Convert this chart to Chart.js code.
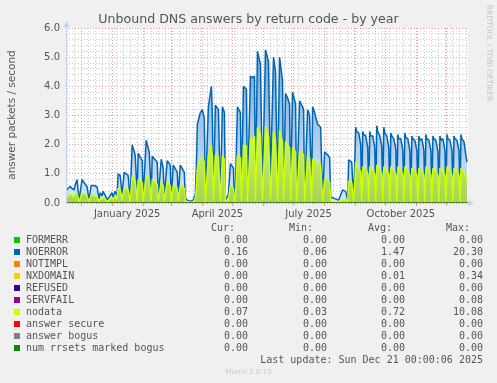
<!DOCTYPE html>
<html>
<head>
<meta charset="utf-8">
<title>Unbound DNS answers by return code - by year</title>
<script src="https://cdn.jsdelivr.net/npm/chart.js@4.4.1/dist/chart.umd.min.js"></script>
<style>
  body { margin: 0; background: #f0f0f0; }
  #wrap { position: relative; width: 497px; height: 383px; overflow: hidden; font-family: "DejaVu Sans", sans-serif; color: #555; }
  #grafico { position: absolute; left: 0; top: 0; }
  .txt { position: absolute; white-space: pre; }
  .mono { font-family: "DejaVu Sans Mono", monospace; font-size: 10px; line-height: 12px; }
  .num { text-align: right; }
  .quad { position: absolute; width: 6px; height: 6px; }
</style>
</head>
<body>
<div id="wrap">
  <canvas id="grafico" width="497" height="383"></canvas>
  <div class="txt" id="titulo" style="left:0; width:497px; top:12px; text-align:center; font-size:12.6px; line-height:14px; color:#555;">Unbound DNS answers by return code - by year</div>
  <div class="txt" style="left:-89px; top:108px; width:200px; height:14px; text-align:center; font-size:10.5px; line-height:14px; transform:rotate(-90deg);">answer packets / second</div>
  <div class="txt" style="left:429px; top:48px; width:120px; height:10px; text-align:center; font-size:7.5px; line-height:10px; color:#c4c4c4; transform:rotate(90deg);">RRDTOOL / TOBI OETIKER</div>
  <div id="legenda"></div>
</div>
<script>
// === Dados (dia 0 = 16 Nov 2024, 1 px por dia) ===
const days = [
  1, 4, 6, 8, 9, 11, 13, 16, 19, 21, 23, 25, 28, 31, 33, 34, 36, 37, 40, 41, 44, 46, 47, 49, 51,
  52, 54, 56, 58, 62, 64, 66, 69, 71, 72, 76, 77, 80, 83, 85, 86, 91, 92, 95, 97, 98, 101, 104, 105, 107, 111, 112, 114, 118, 119, 121, 124, 127, 129,
  130, 131, 134, 136, 138, 139, 142, 145, 146, 147, 149, 152, 154, 156, 158, 159, 162, 164, 167, 168, 169, 171, 174, 175, 177, 180, 181,
  184, 186, 188, 189, 191, 194, 196, 199, 202, 204, 207, 209, 211, 213, 216, 217, 219, 221, 223, 224, 226, 229, 230, 233, 236, 237, 238, 241, 243, 245,
  246, 248, 251, 254, 256, 258, 261, 263, 264, 268, 272, 276, 279, 281, 282, 285, 287,
  289, 290, 292, 294, 295, 296, 297, 299, 301, 302, 303, 304, 306, 308, 309, 310, 311, 313, 315, 316,
  317, 318, 320, 322, 323, 324, 325, 327, 329, 330, 331, 332, 334, 336, 337, 338, 339, 341, 343, 344,
  345, 346, 348, 350, 351, 352, 353, 355, 357, 358, 359, 360, 362, 364, 365, 366, 367, 369, 371, 372,
  373, 374, 376, 378, 379, 380, 381, 383, 385, 386, 387, 388, 390, 392, 393, 394, 395, 397, 399, 400
];
const noerror = [
  0.45, 0.57, 0.5, 0.45, 0.6, 0.8, 0.1, 0.8, 0.65, 0.55, 0.1, 0.6, 0.6, 0.55, 0.12, 0.35, 0.25, 0.4, 0.2, 0.1, 0.25, 0.35, 0.2, 0.4, 0.25,
  1.0, 0.95, 0.3, 1.05, 0.95, 0.1, 2.0, 1.65, 0.3, 1.7, 1.45, 0.2, 2.15, 1.75, 0.3, 1.6, 1.4, 0.2, 1.5, 1.2, 0.2, 1.45, 1.3, 0.2, 1.3, 1.05, 0.2, 1.3, 1.05, 0.15, 0.1, 0.05, 0.1, 0.3,
  1.2, 2.7, 3.1, 3.2, 2.9, 0.1, 3.3, 4.0, 3.0, 0.1, 3.35, 3.2, 0.1, 3.3, 3.1, 0.1, 0.3, 1.35, 1.2, 0.1, 0.4, 3.3, 3.1, 0.1, 4.0, 3.9, 0.2,
  4.35, 4.3, 4.35, 0.3, 5.2, 4.75, 0.4, 5.25, 4.85, 0.8, 5.0, 4.5, 0.4, 5.0, 4.2, 0.15, 3.75, 3.6, 3.4, 0.3, 3.8, 3.4, 0.15, 3.5, 3.3, 3.2, 0.15, 3.2, 3.0, 0.3,
  3.3, 3.1, 2.7, 2.6, 0.15, 1.75, 1.65, 1.55, 0.2, 0.15, 0.1, 0.45, 0.4, 0.1, 1.48, 1.4, 0.1,
  2.6, 2.45, 2.4, 2.0, 0.1, 2.45, 2.35, 2.3, 1.9, 0.1, 2.45, 2.3, 2.3, 1.9, 0.1, 2.65, 2.45, 2.3, 1.95, 0.1,
  2.6, 2.4, 2.3, 1.9, 0.1, 2.4, 2.3, 2.2, 1.85, 0.12, 2.35, 2.2, 2.2, 1.8, 0.1, 2.4, 2.25, 2.2, 1.8, 0.1,
  2.3, 2.2, 2.15, 1.8, 0.1, 2.3, 2.15, 2.2, 1.8, 0.1, 2.35, 2.2, 2.15, 1.8, 0.1, 2.3, 2.2, 2.15, 1.75, 0.1,
  2.3, 2.15, 2.2, 1.8, 0.1, 2.35, 2.2, 2.15, 1.8, 0.12, 2.3, 2.2, 2.15, 1.8, 0.15, 2.35, 2.2, 2.1, 1.6, 1.4
];
const nodata = [
  0.2, 0.3, 0.25, 0.2, 0.3, 0.35, 0.04, 0.33, 0.3, 0.22, 0.04, 0.28, 0.25, 0.22, 0.04, 0.15, 0.12, 0.2, 0.1, 0.04, 0.12, 0.18, 0.1, 0.22, 0.12,
  0.5, 0.45, 0.1, 0.5, 0.45, 0.04, 0.9, 0.75, 0.08, 0.8, 0.7, 0.05, 0.95, 0.8, 0.08, 0.8, 0.65, 0.05, 0.7, 0.6, 0.05, 0.7, 0.6, 0.05, 0.6, 0.5, 0.05, 0.6, 0.5, 0.05, 0.05, 0.02, 0.04, 0.15,
  0.5, 1.2, 1.5, 1.55, 1.4, 0.04, 1.6, 2.0, 1.6, 0.04, 1.65, 1.6, 0.04, 1.6, 1.5, 0.04, 0.1, 0.6, 0.5, 0.04, 0.2, 1.65, 1.55, 0.04, 2.0, 1.95, 0.05,
  2.2, 2.15, 2.3, 0.08, 2.6, 2.35, 0.1, 2.63, 2.3, 0.15, 2.45, 2.2, 0.08, 2.5, 2.1, 0.05, 2.1, 2.0, 1.9, 0.08, 1.9, 1.75, 0.05, 1.77, 1.7, 1.65, 0.05, 1.6, 1.55, 0.08,
  1.5, 1.45, 1.37, 1.3, 0.05, 0.82, 0.78, 0.72, 0.05, 0.05, 0.04, 0.1, 0.1, 0.04, 0.75, 0.7, 0.04,
  1.4, 1.25, 1.2, 1.05, 0.04, 1.25, 1.15, 1.15, 1.0, 0.04, 1.25, 1.15, 1.1, 1.0, 0.04, 1.3, 1.2, 1.15, 1.0, 0.04,
  1.25, 1.15, 1.1, 1.0, 0.04, 1.25, 1.15, 1.1, 1.0, 0.04, 1.25, 1.15, 1.1, 1.0, 0.04, 1.25, 1.15, 1.1, 0.95, 0.04,
  1.2, 1.1, 1.1, 0.95, 0.04, 1.2, 1.1, 1.1, 0.95, 0.04, 1.25, 1.15, 1.1, 0.95, 0.04, 1.2, 1.1, 1.1, 0.95, 0.04,
  1.2, 1.1, 1.1, 0.95, 0.04, 1.25, 1.15, 1.1, 0.95, 0.04, 1.2, 1.1, 1.1, 0.95, 0.04, 1.2, 1.1, 1.05, 0.9, 0.8
];
const nxdomainDays = [0, 78, 79, 80, 401];
const nxdomain = [0, 0, 0.05, 0, 0];
const zeroDays = [0, 401];
const zeros = [0, 0];

// === Eixos ===
const monthStarts = [15, 46, 77, 105, 136, 166, 197, 227, 258, 289, 319, 350, 380];
const labelDays = [61, 151, 242, 334];
const monthLabels = ['January 2025', 'April 2025', 'July 2025', 'October 2025'];

// === Legenda ===
const nomes = ['FORMERR', 'NOERROR', 'NOTIMPL', 'NXDOMAIN', 'REFUSED', 'SERVFAIL', 'nodata', 'answer secure', 'answer bogus', 'num rrsets marked bogus'];
const cores = ['#00CC00', '#0066B3', '#FF8000', '#FFCC00', '#330099', '#990099', '#CCFF00', '#FF0000', '#808080', '#008F00'];
const cur = ['0.00', '0.16', '0.00', '0.00', '0.00', '0.00', '0.07', '0.00', '0.00', '0.00'];
const min = ['0.00', '0.06', '0.00', '0.00', '0.00', '0.00', '0.03', '0.00', '0.00', '0.00'];
const avg = ['0.00', '1.47', '0.00', '0.01', '0.00', '0.00', '0.72', '0.00', '0.00', '0.00'];
const max = ['0.00', '20.30', '0.00', '0.34', '0.00', '0.08', '10.08', '0.00', '0.00', '0.00'];

const weekDays = [];
for (let d = 1; d <= 400; d += 7) weekDays.push(d);

function pontos(xs, ys) {
  return xs.map((x, i) => ({ x: x, y: ys[i] }));
}

function gradiente(chart, topo, base, vTopo) {
  const { ctx, chartArea, scales } = chart;
  if (!chartArea) return base;
  const g = ctx.createLinearGradient(0, scales.y.getPixelForValue(vTopo), 0, chartArea.bottom);
  g.addColorStop(0, topo);
  g.addColorStop(1, base);
  return g;
}

function linhaZero(idx) {
  return {
    label: nomes[idx],
    data: pontos(zeroDays, zeros),
    borderColor: cores[idx],
    borderWidth: 1,
    pointRadius: 0,
    fill: false
  };
}

// === Fundo branco e setas dos eixos ===
const fundoPlugin = {
  id: 'fundo',
  beforeDraw(chart) {
    const { ctx, chartArea: a } = chart;
    ctx.save();
    ctx.fillStyle = '#ffffff';
    ctx.fillRect(a.left, a.top, a.right - a.left, a.bottom - a.top);
    ctx.restore();
  },
  afterDraw(chart) {
    const { ctx, chartArea: a } = chart;
    ctx.save();
    ctx.strokeStyle = '#c8d0f0';
    ctx.fillStyle = '#c8d0f0';
    ctx.lineWidth = 1;
    ctx.beginPath();
    ctx.moveTo(a.left + 0.5, a.bottom);
    ctx.lineTo(a.left + 0.5, a.top - 4);
    ctx.stroke();
    ctx.beginPath();
    ctx.moveTo(a.left - 2.5, a.top - 1);
    ctx.lineTo(a.left + 3.5, a.top - 1);
    ctx.lineTo(a.left + 0.5, a.top - 7);
    ctx.fill();
    ctx.beginPath();
    ctx.moveTo(a.right, a.bottom - 3);
    ctx.lineTo(a.right, a.bottom + 3);
    ctx.lineTo(a.right + 6, a.bottom);
    ctx.fill();
    ctx.restore();
  }
};

new Chart(document.getElementById('grafico'), {
  type: 'line',
  data: {
    datasets: [
      linhaZero(9),
      linhaZero(8),
      linhaZero(7),
      {
        label: 'nodata',
        data: pontos(days, nodata),
        borderColor: '#CCFF00',
        borderWidth: 1.5,
        borderJoinStyle: 'bevel',
        pointRadius: 0,
        fill: 'origin',
        backgroundColor: (c) => gradiente(c.chart, 'rgba(225,250,100,0.9)', 'rgba(155,210,55,0.85)', 2.6)
      },
      linhaZero(5),
      linhaZero(4),
      {
        label: 'NXDOMAIN',
        data: pontos(nxdomainDays, nxdomain),
        borderColor: '#FFCC00',
        borderWidth: 1,
        pointRadius: 0,
        fill: false
      },
      linhaZero(2),
      {
        label: 'NOERROR',
        data: pontos(days, noerror),
        borderColor: '#0066B3',
        borderWidth: 1.5,
        borderJoinStyle: 'bevel',
        pointRadius: 0,
        fill: 'origin',
        backgroundColor: (c) => gradiente(c.chart, 'rgba(85,150,215,0.85)', 'rgba(200,222,242,0.75)', 5.3)
      },
      linhaZero(0)
    ]
  },
  options: {
    responsive: false,
    animation: false,
    devicePixelRatio: 1,
    layout: { autoPadding: false, padding: { left: 0, top: 28, right: 29, bottom: 0 } },
    plugins: { legend: { display: false }, tooltip: { enabled: false } },
    elements: { line: { tension: 0 } },
    scales: {
      x: {
        type: 'linear',
        min: 0,
        max: 401,
        afterFit: (s) => { s.height = 180; },
        afterBuildTicks: (s) => {
          const vals = Array.from(new Set([...weekDays, ...monthStarts, ...labelDays])).sort((a, b) => a - b);
          s.ticks = vals.map(v => ({ value: v }));
        },
        border: { display: false, dash: [1, 2] },
        grid: {
          drawTicks: true,
          tickLength: 3,
          color: (c) => {
            const v = c.tick && c.tick.value;
            if (monthStarts.includes(v)) return 'rgba(215,80,80,0.55)';
            if (weekDays.includes(v)) return 'rgba(140,140,140,0.45)';
            return 'rgba(0,0,0,0)';
          },
          tickColor: (c) => {
            const v = c.tick && c.tick.value;
            return monthStarts.includes(v) ? 'rgba(215,80,80,0.55)' : 'rgba(0,0,0,0)';
          }
        },
        ticks: {
          autoSkip: false,
          maxRotation: 0,
          minRotation: 0,
          padding: 2,
          color: '#555',
          font: { family: 'DejaVu Sans', size: 10 },
          callback: (v) => {
            const i = labelDays.indexOf(v);
            return i >= 0 ? monthLabels[i] : '';
          }
        }
      },
      y: {
        min: 0,
        max: 6,
        afterFit: (s) => { s.width = 66; },
        afterBuildTicks: (s) => {
          const t = [];
          for (let i = 0; i <= 30; i++) t.push({ value: Math.round(i * 2) / 10 });
          s.ticks = t;
        },
        border: { display: false, dash: [1, 2] },
        grid: {
          drawTicks: false,
          color: (c) => {
            const v = c.tick ? c.tick.value : 0;
            return Math.abs(v - Math.round(v)) < 1e-6 ? 'rgba(215,80,80,0.55)' : 'rgba(140,140,140,0.45)';
          }
        },
        ticks: {
          autoSkip: false,
          padding: 6,
          color: '#555',
          font: { family: 'DejaVu Sans', size: 10 },
          callback: (v) => Math.abs(v - Math.round(v)) < 1e-6 ? v.toFixed(1) : ''
        }
      }
    }
  },
  plugins: [fundoPlugin]
});

// === Legenda em texto ===
function montarLegenda() {
  const box = document.getElementById('legenda');
  let html = '';
  const topoCab = 222;
  html += `<div class="txt mono num" style="left:0; width:235px; top:${topoCab}px;">Cur:</div>`;
  html += `<div class="txt mono num" style="left:0; width:313px; top:${topoCab}px;">Min:</div>`;
  html += `<div class="txt mono num" style="left:0; width:392px; top:${topoCab}px;">Avg:</div>`;
  html += `<div class="txt mono num" style="left:0; width:470px; top:${topoCab}px;">Max:</div>`;
  nomes.forEach((nome, i) => {
    const centro = 239.5 + i * 12;
    const topo = centro - 5.8;
    html += `<div class="quad" style="left:14px; top:${Math.round(centro - 3)}px; background:${cores[i]};"></div>`;
    html += `<div class="txt mono" style="left:26px; top:${topo}px;">${nome}</div>`;
    html += `<div class="txt mono num" style="left:0; width:248px; top:${topo}px;">${cur[i]}</div>`;
    html += `<div class="txt mono num" style="left:0; width:327px; top:${topo}px;">${min[i]}</div>`;
    html += `<div class="txt mono num" style="left:0; width:405px; top:${topo}px;">${avg[i]}</div>`;
    html += `<div class="txt mono num" style="left:0; width:483px; top:${topo}px;">${max[i]}</div>`;
  });
  html += `<div class="txt mono num" style="left:0; width:483px; top:${359.5 - 5.8}px;">Last update: Sun Dec 21 00:00:06 2025</div>`;
  html += `<div class="txt" style="left:0; width:497px; top:367px; text-align:center; font-size:7px; line-height:10px; color:#c8c8c8;">Munin 2.0.73</div>`;
  box.innerHTML = html;
}
montarLegenda();
</script>
</body>
</html>
